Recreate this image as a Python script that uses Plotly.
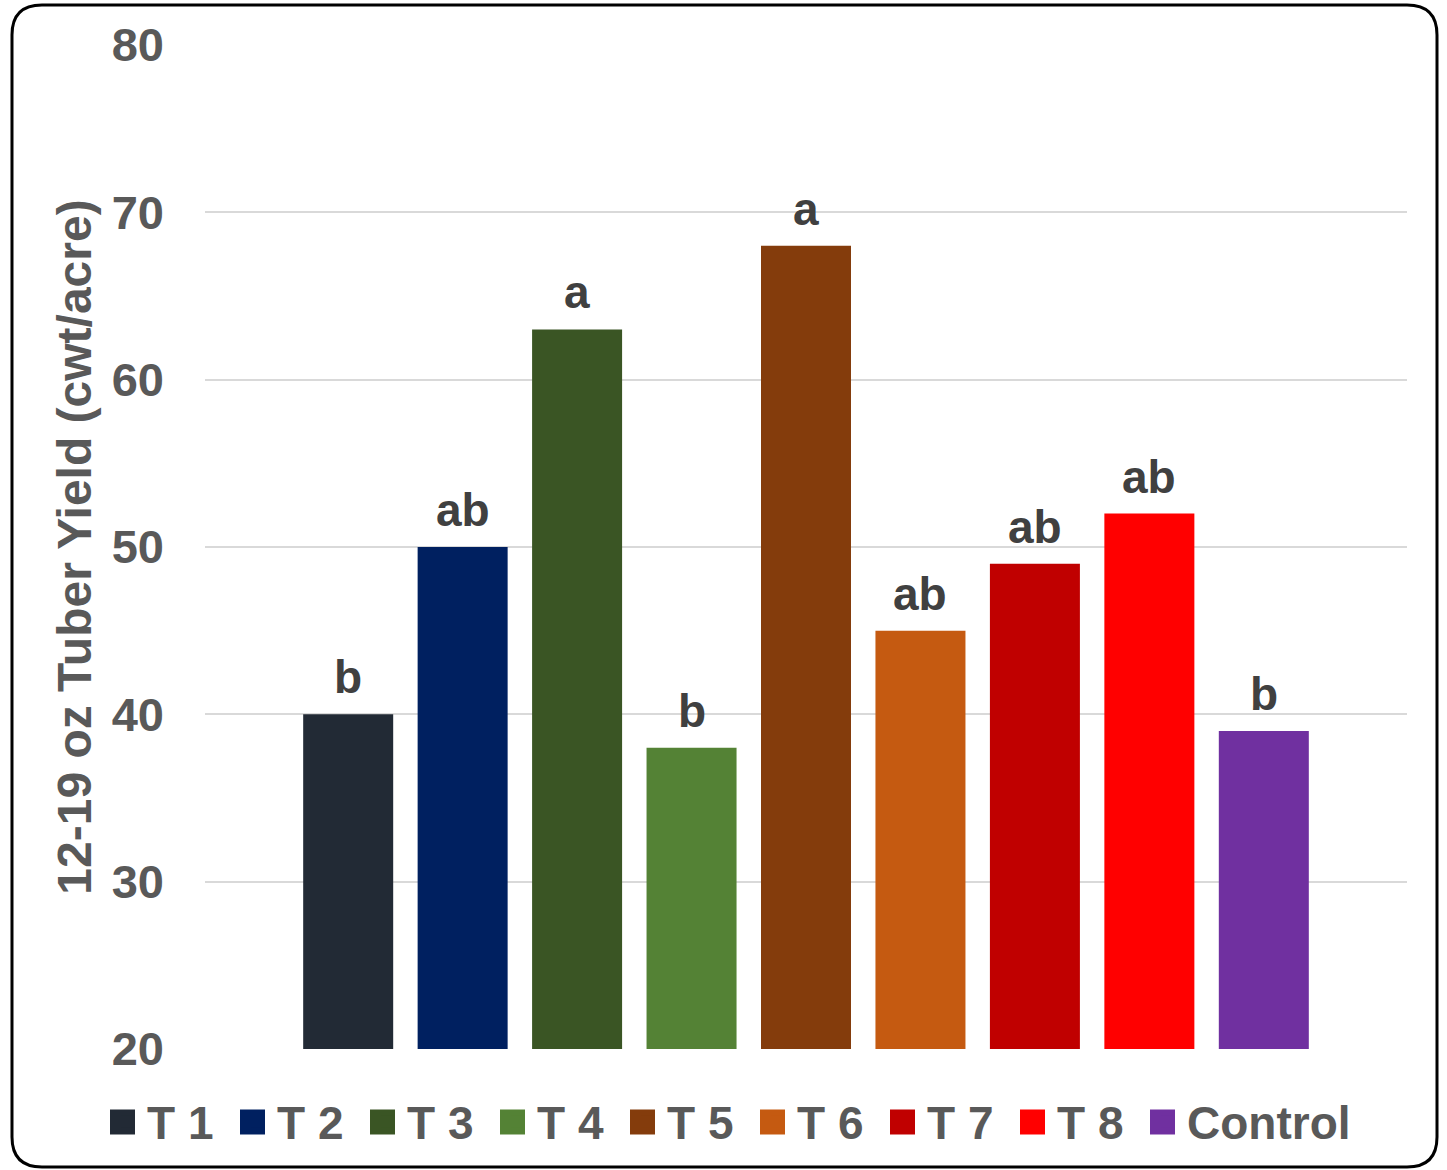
import plotly.graph_objects as go

# Treatment means for 12-19 oz tubers and their mean-separation letters
treatments = ["T 1", "T 2", "T 3", "T 4", "T 5", "T 6", "T 7", "T 8", "Control"]
yield_cwt = [40, 50, 63, 38, 68, 45, 49, 52, 39]
letters = ["b", "ab", "a", "b", "a", "ab", "ab", "ab", "b"]
colors = ["#222A35", "#002060", "#3A5524", "#548235", "#843C0C",
          "#C55A11", "#C00000", "#FF0000", "#7030A0"]
y_ticks = [20, 30, 40, 50, 60, 70, 80]

W, H = 1447, 1170
ML, MR, MT, MB = 205, 40, 45, 121
PW, PH = W - ML - MR, H - MT - MB

FONT = "Liberation Sans, Arial, Helvetica, sans-serif"
GREY = "#595959"
DARK = "#404040"

# legend geometry (pixels)
LEG_X, LEG_TOP, LEG_STEP = 107, 1085, 130
SWATCH, SWATCH_CY = 25, 1122


def px_to_paper(px, py):
    return (px - ML) / PW, (H - MB - py) / PH


fig = go.Figure()
n = len(treatments)
for i, (name, val, col) in enumerate(zip(treatments, yield_cwt, colors)):
    # the treatments share one evenly spaced legend; the control gets its own
    fig.add_trace(go.Bar(
        x=[name], y=[val], name=name,
        marker=dict(color=col, line=dict(width=0)),
        legend="legend" if i < n - 1 else "legend2",
        hoverinfo="x+y",
    ))

# letters above each bar
for name, val, lab in zip(treatments, yield_cwt, letters):
    fig.add_annotation(
        x=name, y=val, text=lab, showarrow=False,
        xanchor="center", yanchor="bottom", yshift=9,
        font=dict(family=FONT, size=46, color=DARK, weight="bold"),
    )

# larger colour swatches behind the legend symbols
for i, col in enumerate(colors):
    cx = LEG_X + 15.5 + LEG_STEP * i
    x0, y0 = px_to_paper(cx - SWATCH / 2, SWATCH_CY + SWATCH / 2)
    x1, y1 = px_to_paper(cx + SWATCH / 2, SWATCH_CY - SWATCH / 2)
    fig.add_shape(type="rect", xref="paper", yref="paper",
                  x0=x0, y0=y0, x1=x1, y1=y1,
                  fillcolor=col, line=dict(width=0), layer="above")

# rounded frame around the whole chart
L, R, T, B, rad = 12, 1437, 5, 1167, 30
pts = [
    ("M", [(L + rad, T)]),
    ("L", [(R - rad, T)]),
    ("Q", [(R, T), (R, T + rad)]),
    ("L", [(R, B - rad)]),
    ("Q", [(R, B), (R - rad, B)]),
    ("L", [(L + rad, B)]),
    ("Q", [(L, B), (L, B - rad)]),
    ("L", [(L, T + rad)]),
    ("Q", [(L, T), (L + rad, T)]),
]
path = ""
for cmd, coords in pts:
    path += cmd + " ".join("%.5f,%.5f" % px_to_paper(*c) for c in coords)
path += "Z"
fig.add_shape(type="path", path=path, xref="paper", yref="paper",
              line=dict(color="black", width=3), layer="above")

legend_font = dict(family=FONT, size=46, color=GREY, weight="bold")

fig.update_layout(
    width=W, height=H,
    margin=dict(l=ML, r=MR, t=MT, b=MB, autoexpand=False),
    paper_bgcolor="white", plot_bgcolor="white",
    barmode="overlay", bargap=0.2136,
    font=dict(family=FONT, color=GREY),
    showlegend=True,
    legend=dict(
        orientation="h", x=px_to_paper(LEG_X, 0)[0], xanchor="left",
        y=px_to_paper(0, LEG_TOP)[1], yanchor="top",
        entrywidth=LEG_STEP - 45, entrywidthmode="pixels",
        font=legend_font, bgcolor="rgba(0,0,0,0)", traceorder="normal",
    ),
    legend2=dict(
        orientation="h",
        x=px_to_paper(LEG_X + LEG_STEP * (n - 1), 0)[0], xanchor="left",
        y=px_to_paper(0, LEG_TOP)[1], yanchor="top",
        font=legend_font, bgcolor="rgba(0,0,0,0)",
    ),
    xaxis=dict(
        type="category", range=[-1.251, 9.251],
        showticklabels=False, showgrid=False, zeroline=False,
        showline=False, ticks="",
    ),
    yaxis=dict(
        range=[20, 80], tickvals=y_ticks, showgrid=True,
        gridcolor="#D9D9D9", gridwidth=2, zeroline=False, showline=False,
        ticks="", ticklabelstandoff=40,
        tickfont=dict(family=FONT, size=47, color=GREY, weight="bold"),
        title=dict(text="12-19 oz Tuber Yield (cwt/acre)", standoff=4,
                   font=dict(family=FONT, size=48, color=GREY, weight="bold")),
    ),
)

fig.write_html("out.html")
